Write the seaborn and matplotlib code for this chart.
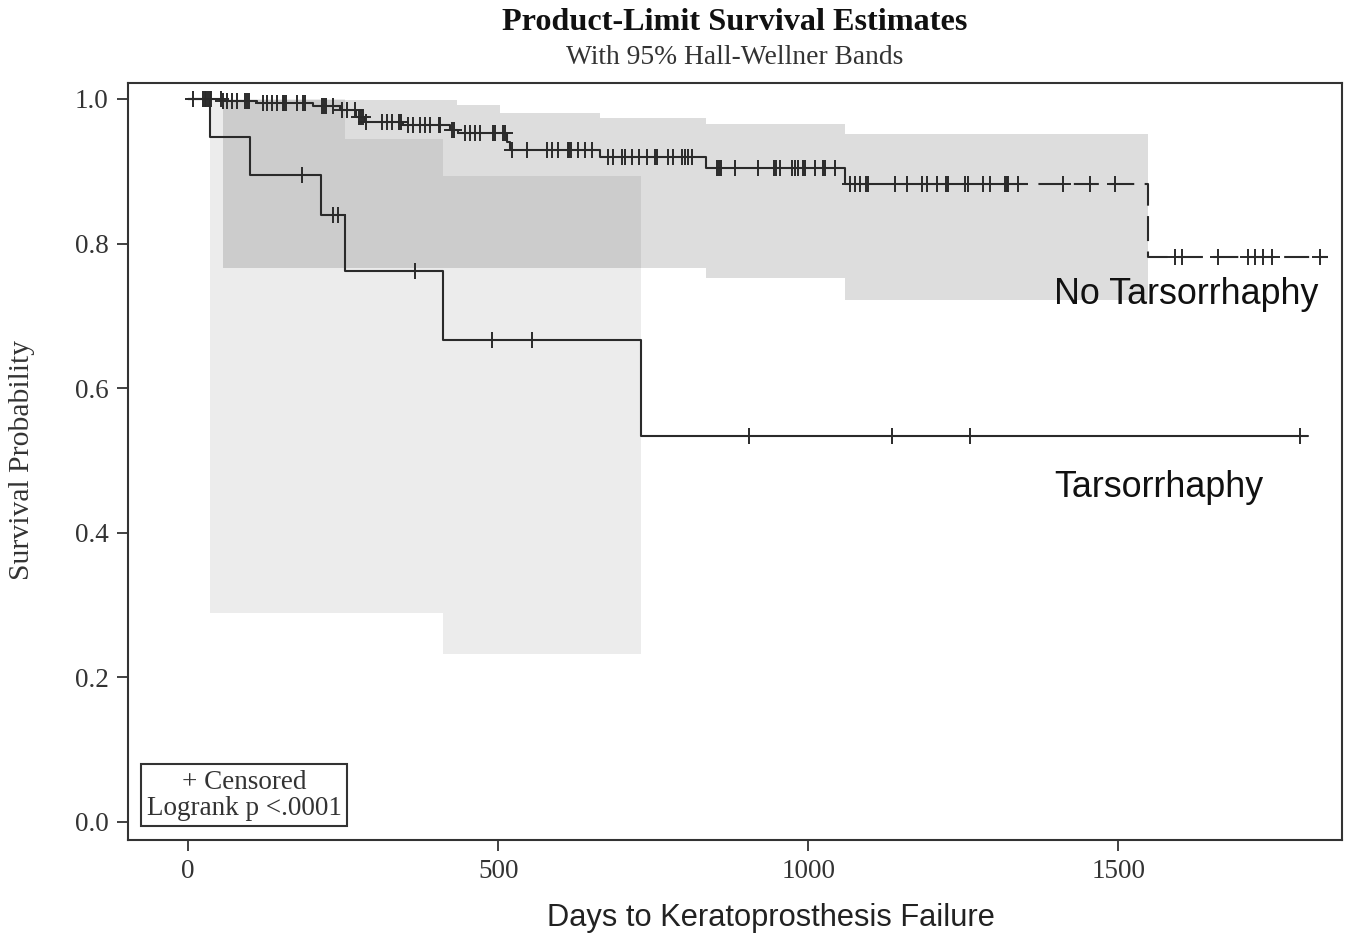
import numpy as np
import pandas as pd
import matplotlib
matplotlib.use("Agg")
import matplotlib.pyplot as plt
import seaborn as sns

# ---------------- data ----------------
groups = ["No Tarsorrhaphy", "Tarsorrhaphy"]

no_event_days = [56, 111, 202, 245, 270, 285, 347, 423, 435, 515, 519, 665, 835, 1060, 1548]
no_surv = [0.997, 0.994, 0.990, 0.985, 0.975, 0.968, 0.964, 0.957, 0.953, 0.940, 0.929,
           0.920, 0.904, 0.882, 0.781]
no_end_day = 1839
no_dash_from = 1315
no_censor_days = [8, 24, 27, 29, 32, 35, 37, 53, 56, 63, 71, 79, 92, 95, 98, 121, 127, 135,
                  144, 153, 155, 158, 176, 185, 189, 216, 219, 223, 234, 248,
                  256, 269, 275, 278, 282, 287, 313, 321, 329, 340, 344, 355, 363, 374, 382,
                  390, 405, 407, 425, 429, 447, 455, 463, 471, 492, 495, 508, 511,
                  523, 547, 579, 587, 597, 612, 615, 618, 629, 640, 652, 677, 685, 700, 705,
                  716, 727, 740, 753, 756, 774, 782, 797, 802, 806, 813,
                  853, 856, 860, 882, 919, 945, 948, 955, 974, 979, 984, 992, 995, 1011,
                  1024, 1027, 1044, 1068, 1076, 1084, 1093, 1097, 1140, 1160, 1184, 1192,
                  1208, 1222, 1225, 1253, 1258, 1282, 1294, 1317, 1320, 1323, 1339,
                  1411, 1455, 1495, 1592, 1603, 1661, 1710, 1721, 1734, 1748, 1826]
no_band_days = [56, 434, 503, 665, 835, 1060, 1548]
no_band_upper = [0.999, 0.992, 0.981, 0.974, 0.965, 0.952, 0.952]
no_band_lower = [0.766, 0.766, 0.766, 0.766, 0.752, 0.722, 0.722]

t_event_days = [35, 100, 215, 253, 411, 731]
t_surv = [0.947, 0.895, 0.839, 0.762, 0.667, 0.534]
t_end_day = 1806
t_censor_days = [184, 234, 242, 366, 490, 555, 905, 1135, 1261, 1794]
t_band_days = [35, 253, 411, 731]
t_band_upper = [1.0, 0.945, 0.894, 0.894]
t_band_lower = [0.289, 0.289, 0.232, 0.232]

x_ticks = [0, 500, 1000, 1500]
y_ticks = [0.0, 0.2, 0.4, 0.6, 0.8, 1.0]

title = "Product-Limit Survival Estimates"
subtitle = "With 95% Hall-Wellner Bands"
x_label = "Days to Keratoprosthesis Failure"
y_label = "Survival Probability"
box_text = "+ Censored\nLogrank p <.0001"

# ---------------- helpers ----------------
def step_frame(ev_days, surv, start, end):
    t = np.array([0] + list(ev_days), dtype=float)
    s = np.array([1.0] + list(surv))
    mask = (t >= start) & (t <= end)
    t2 = np.concatenate([[start], t[mask & (t > start)], [end]])
    idx = np.searchsorted(t, t2, side="right") - 1
    return pd.DataFrame({"day": t2, "surv": s[idx]})

def surv_at(ev_days, surv, days):
    t = np.array([0] + list(ev_days), dtype=float)
    s = np.array([1.0] + list(surv))
    idx = np.searchsorted(t, np.array(days, dtype=float), side="right") - 1
    return s[idx]

# ---------------- plot ----------------
sns.set_theme(style="white")
plt.rcParams["font.family"] = ["DejaVu Sans"]
serif = "Liberation Serif"
sans = "Liberation Sans"

fig = plt.figure(figsize=(13.5, 9.41), dpi=100)
ax = fig.add_axes([128 / 1350, 1 - 840 / 941, (1342 - 128) / 1350, (840 - 83) / 941])

# bands
ax.fill_between(t_band_days, t_band_lower, t_band_upper, step="post",
                color="black", alpha=0.075, linewidth=0)
ax.fill_between(no_band_days, no_band_lower, no_band_upper, step="post",
                color="black", alpha=0.135, linewidth=0)

lc = "#2a2a2a"
# Tarsorrhaphy curve
df_t = step_frame(t_event_days, t_surv, 0, t_end_day)
sns.lineplot(data=df_t, x="day", y="surv", drawstyle="steps-post", color=lc,
             linewidth=1.5, ax=ax, estimator=None, sort=False)
# No tarsorrhaphy curve: solid then dashed
df_n1 = step_frame(no_event_days, no_surv, 0, no_dash_from)
df_n2 = step_frame(no_event_days, no_surv, no_dash_from, no_end_day)
sns.lineplot(data=df_n1, x="day", y="surv", drawstyle="steps-post", color=lc,
             linewidth=1.5, ax=ax, estimator=None, sort=False)
sns.lineplot(data=df_n2, x="day", y="surv", drawstyle="steps-post", color=lc,
             linewidth=1.5, ax=ax, estimator=None, sort=False,
             linestyle=(0, (12, 5)))

# censor marks
ax.plot(t_censor_days, surv_at(t_event_days, t_surv, t_censor_days), linestyle="none",
        marker="+", markersize=11, markeredgewidth=1.4, color=lc)
ax.plot(no_censor_days, surv_at(no_event_days, no_surv, no_censor_days), linestyle="none",
        marker="+", markersize=11, markeredgewidth=1.4, color=lc)

ax.set_xlim(-97, 1861)
ax.set_ylim(-0.025, 1.022)
ax.set_xticks(x_ticks)
ax.set_xticklabels([str(v) for v in x_ticks])
ax.set_yticks(y_ticks)
ax.set_yticklabels([f"{v:.1f}" for v in y_ticks])
ax.tick_params(axis="both", direction="out", length=8, width=1.3, color="#333333",
               labelsize=19.5, labelcolor="#333333", pad=6, bottom=True, left=True)
for lab in ax.get_xticklabels() + ax.get_yticklabels():
    lab.set_fontfamily(serif)
for sp in ax.spines.values():
    sp.set_color("#333333")
    sp.set_linewidth(1.5)
ax.set_xlabel("")
ax.set_ylabel("")

# group labels
ax.text(1397, 0.730, groups[0], fontsize=25.8, family=sans, color="#111111",
        ha="left", va="center")
ax.text(1397, 0.462, groups[1], fontsize=25.8, family=sans, color="#111111",
        ha="left", va="center")

# inset box
ax.text(0.0956, 0.0594, box_text, transform=ax.transAxes, ha="center", va="center",
        fontsize=19.5, family=serif, color="#333333", linespacing=1.05,
        bbox=dict(boxstyle="square,pad=0.2", fc="white", ec="#333333", lw=1.5))

# titles and axis labels
fig.text(735 / 1350, 1 - 22 / 941, title, ha="center", va="center", fontsize=23.2,
         family=serif, fontweight="bold", color="#111111")
fig.text(735 / 1350, 1 - 57 / 941, subtitle, ha="center", va="center", fontsize=19.8,
         family=serif, color="#333333")
fig.text(771 / 1350, 1 - 918 / 941, x_label, ha="center", va="center", fontsize=22.2,
         family=sans, color="#222222")
fig.text(22 / 1350, 1 - 460 / 941, y_label, ha="center", va="center", fontsize=21.3,
         family=serif, color="#333333", rotation=90)

fig.savefig("out.png", dpi=100, facecolor="white")
